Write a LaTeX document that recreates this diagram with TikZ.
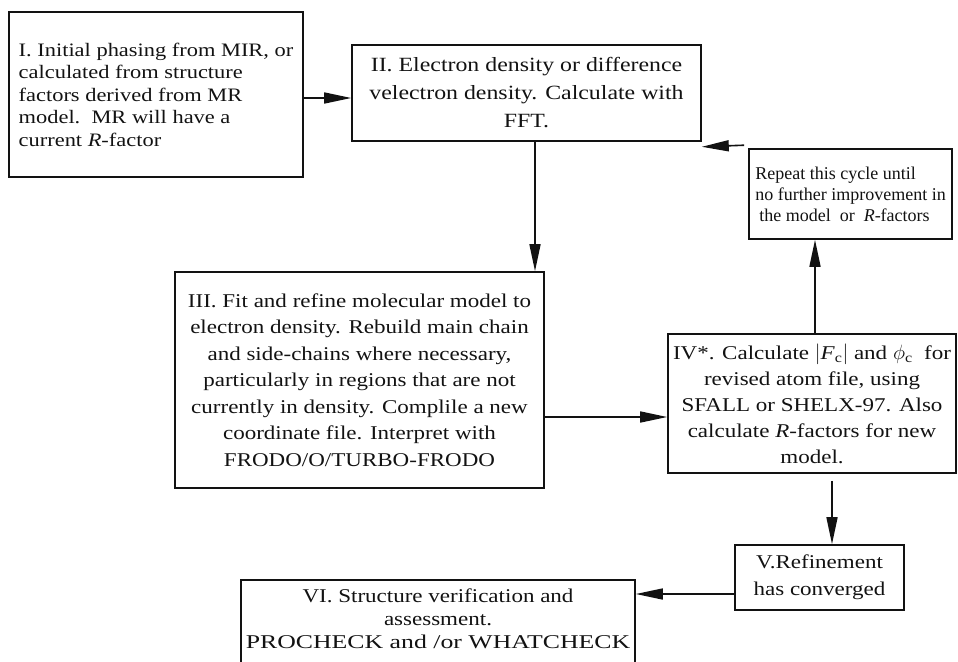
\documentclass[tikz,border=0pt]{standalone}
\usepackage{fontspec}
\setmainfont{Liberation Serif}[FakeStretch=1.18]
\newfontfamily\plainserif{Liberation Serif}
\usepackage{graphicx}
\usepackage{tikz}
\usetikzlibrary{arrows.meta}
\usetikzlibrary{positioning,calc}
\definecolor{inkblack}{RGB}{18,18,18}

\begin{document}
\begin{tikzpicture}[x=1pt,y=-1pt,
    stage/.style={draw=inkblack,line width=1.6pt,inner sep=3pt,align=center,text=inkblack},
    flow/.style={-{Triangle[length=27pt,width=11pt]},inkblack,line width=1.6pt}]
    \useasboundingbox (0,0) rectangle (958,661);
    \node[stage,align=left,minimum width=294pt,minimum height=165pt,
      font=\fontsize{19}{22.5}\selectfont] (init) at (156,94.5)
      {I. Initial phasing from MIR, or\\calculated from structure\\factors derived from MR\\
       model.\ \ MR will have a\\current \textit{R}-factor};
    \node[stage,minimum width=349pt,minimum height=96pt,
      font=\fontsize{20.2}{28}\selectfont] (dens) at (526.5,93)
      {II. Electron density or difference\\velectron density. Calculate with\\FFT.};
    \node[stage,align=left,minimum width=203pt,minimum height=90pt,
      font=\plainserif\fontsize{18}{21}\selectfont] (rep) at (850.5,194)
      {Repeat this cycle until\\no further improvement in\\
       \hspace*{4pt}the model\ \ or\ \ \textit{R}-factors};
    \node[stage,minimum width=369pt,minimum height=216pt,
      font=\fontsize{19.5}{26.5}\selectfont] (fit) at (359.5,380)
      {III. Fit and refine molecular model to\\electron density. Rebuild main chain\\
       and side-chains where necessary,\\particularly in regions that are not\\
       currently in density. Complile a new\\coordinate file. Interpret with\\
       FRODO/O/TURBO-FRODO};
    \node[stage,minimum width=288pt,minimum height=139pt,
      font=\fontsize{19.5}{26}\selectfont] (calc) at (812,403.5)
      {IV*. Calculate $|$\textit{F}\textsubscript{c}$|$ and $\phi$\textsubscript{c}\ \ for\\
       revised atom file, using\\SFALL or SHELX-97. Also\\
       calculate \textit{R}-factors for new\\model.};
    \node[stage,minimum width=169pt,minimum height=65pt,
      font=\fontsize{19.5}{27}\selectfont] (conv) at (819.5,577.5)
      {V.Refinement\\has converged};
    \node[stage,anchor=north,minimum width=394pt,text depth=70pt,inner ysep=9pt,
      font=\fontsize{19.5}{23}\selectfont] (verif) at (438,579)
      {VI. Structure verification and\\assessment.\\
       \scalebox{1.12}[1]{PROCHECK and /or WHATCHECK}};

    \coordinate (fitout) at ([yshift=-13.5pt]calc.west);
    \draw[flow] ([yshift=-3.5pt]init.east) -- ([yshift=-3.5pt]init.east -| dens.west);
    \draw[flow] ([xshift=8.5pt]dens.south) -- ([xshift=8.5pt]dens.south |- fit.north);
    \draw[flow] (fit.east |- fitout) -- (fitout);
    \draw[flow] ([xshift=3pt]calc.north) -- ([xshift=3pt]calc.north |- rep.south);
    \draw[flow] ([shift={(-4pt,3pt)}]rep.north west) -- ([yshift=-5pt]dens.south east);
    \draw[flow] ([shift={(20pt,-7pt)}]calc.south) -- ([xshift=20pt]calc.south |- conv.north);
    \draw[flow] ([yshift=-16.5pt]conv.west) -- ([yshift=-16.5pt]conv.west -| verif.east);
\end{tikzpicture}
\end{document}
